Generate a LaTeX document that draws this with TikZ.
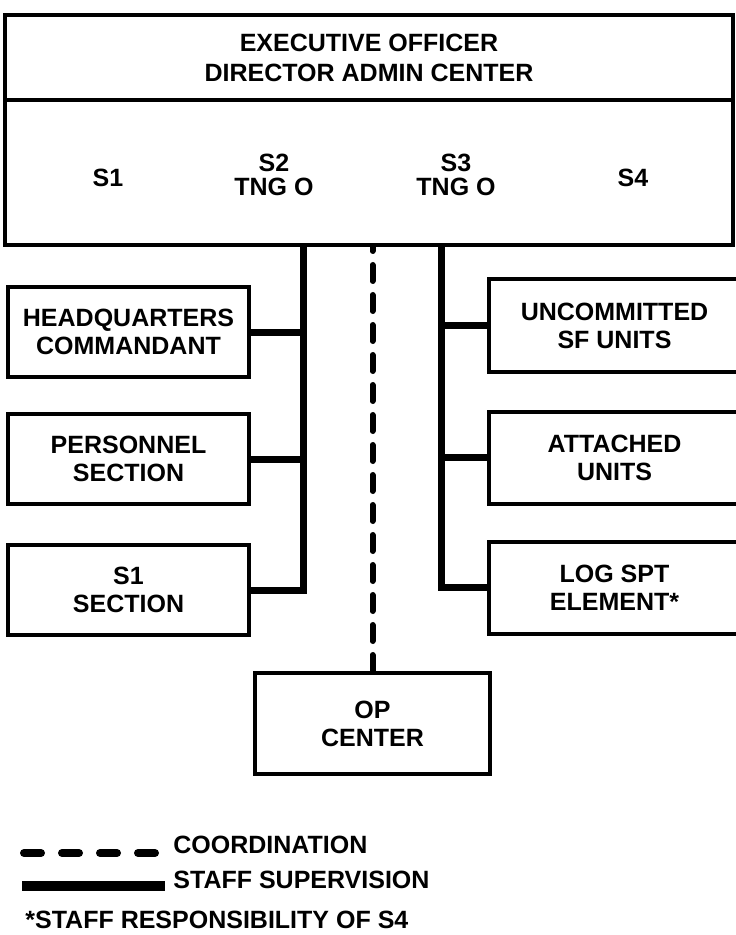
\documentclass[tikz,border=0pt]{standalone}
\usepackage{fontspec}
\setmainfont{Liberation Sans}

\begin{document}
\begin{tikzpicture}[x=0.5pt, y=-0.5pt,
    every node/.style={font=\bfseries\fontsize{12.5}{14}\selectfont, align=center, inner sep=0pt},
    hqbox/.style={draw, line width=2.3pt, minimum width=364pt},
    leftbox/.style={draw, line width=2pt, minimum width=120.5pt, minimum height=45pt},
    rightbox/.style={draw, line width=2pt, minimum width=125.5pt, minimum height=46pt},
    supv/.style={line width=3.5pt, line join=miter},
    coordline/.style={line width=3pt, line cap=round, dash pattern=on 8pt off 7pt}]
  \useasboundingbox (0,0) rectangle (735,935);
  % executive officer block
  \node[hqbox, minimum height=42.5pt, font=\bfseries\fontsize{12.5}{15}\selectfont] (xo) at (369,57.5)
    {EXECUTIVE OFFICER\\DIRECTOR ADMIN CENTER};
  \node[hqbox, minimum height=72.5pt] (staff) at (369,172.5) {};
  \node (sone) at (108,178) {S1};
  \node[font=\bfseries\fontsize{12.5}{12}\selectfont] (stwo) at (274,175) {S2\\TNG O};
  \node[font=\bfseries\fontsize{12.5}{12}\selectfont] (sthree) at (456,175) {S3\\TNG O};
  \node (sfour) at (633,178) {S4};
  % left side
  \node[leftbox] (hq) at (128.5,332) {HEADQUARTERS\\COMMANDANT};
  \node[leftbox] (pers) at (128.5,459) {PERSONNEL\\SECTION};
  \node[leftbox] (sonesec) at (128.5,590) {S1\\SECTION};
  % right side
  \node[rightbox] (unc) at (614.5,325.5) {UNCOMMITTED\\SF UNITS};
  \node[rightbox] (att) at (614.5,457.5) {ATTACHED\\UNITS};
  \node[rightbox] (log) at (614.5,587.5) {LOG SPT\\ELEMENT*};
  % op center
  \node[draw, line width=2pt, minimum width=117.5pt, minimum height=50.5pt] (op) at (372.5,723.5)
    {OP\\CENTER};
  % staff supervision lines
  \coordinate (lsup) at (303,245);
  \coordinate (rsup) at (441,245);
  \draw[supv] (lsup) |- (sonesec.east);
  \draw[supv] (hq.east) -- (hq.east -| lsup);
  \draw[supv] (pers.east) -- (pers.east -| lsup);
  \draw[supv] (rsup) |- (log.west);
  \draw[supv] (unc.west) -- (unc.west -| rsup);
  \draw[supv] (att.west) -- (att.west -| rsup);
  % coordination
  \draw[coordline] (op.north) -- (op.north |- staff.south);
  % legend
  \node[anchor=west] (coordtxt) at (173,845) {COORDINATION};
  \node[anchor=west] (supvtxt) at (173,880) {STAFF SUPERVISION};
  \node[anchor=west] (resptxt) at (25,920) {*STAFF RESPONSIBILITY OF S4};
  \coordinate (cstart) at (24,853);
  \coordinate (sstart) at (22,886);
  \draw[line width=4pt, line cap=round, dash pattern=on 8.5pt off 10.5pt] (cstart) -- (cstart -| coordtxt.west) ++(-13,0);
  \draw[line width=5pt] (sstart) -- ([xshift=-4pt]sstart -| supvtxt.west);
\end{tikzpicture}
\end{document}
